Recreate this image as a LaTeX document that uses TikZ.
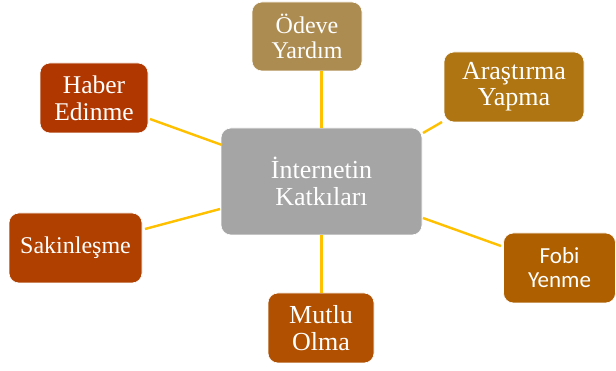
\documentclass[tikz,border=0pt]{standalone}
\usepackage{fontspec}
\setmainfont{Liberation Serif}
\newfontfamily\carlito{Carlito}
\definecolor{cOdeve}{RGB}{173,140,81}
\definecolor{cArastirma}{RGB}{174,117,18}
\definecolor{cFobi}{RGB}{174,95,0}
\definecolor{cMutlu}{RGB}{176,80,0}
\definecolor{cSakin}{RGB}{176,64,0}
\definecolor{cHaber}{RGB}{176,56,0}
\definecolor{cCenter}{RGB}{165,165,165}
\definecolor{cLine}{RGB}{255,192,0}
\tikzset{
  box/.style={fill=#1, draw=white, line width=0.6pt, rounded corners=10pt, text=white, align=center, inner sep=0pt},
  conn/.style={draw=cLine, line width=2.4pt}
}
\begin{document}
\begin{tikzpicture}[x=1pt,y=-1pt]
\useasboundingbox (0,0) rectangle (616,371);
\node[box=cCenter, minimum width=201pt, minimum height=107pt, font=\fontsize{26}{27}\selectfont] (center) at (321.5,181.5) {İnternetin\\Katkıları};
\node[box=cOdeve, minimum width=110pt, minimum height=69pt, font=\fontsize{24}{25}\selectfont] (odeve) at (307,36.5) {Ödeve\\Yardım};
\node[box=cArastirma, minimum width=140pt, minimum height=70pt, font=\fontsize{26}{26}\selectfont] (arastirma) at (514,87) {Araştırma\\Yapma};
\node[box=cFobi, minimum width=112pt, minimum height=70pt, font=\carlito\fontsize{23}{24}\selectfont] (fobi) at (559.5,268) {Fobi\\Yenme};
\node[box=cSakin, minimum width=133pt, minimum height=70pt, font=\fontsize{24}{25}\selectfont] (sakin) at (75.5,248) {Sakinleşme};
\node[box=cHaber, minimum width=108pt, minimum height=70pt, font=\fontsize{25.5}{27}\selectfont] (haber) at (94,98) {Haber\\Edinme};
\node[box=cMutlu, minimum width=106pt, minimum height=70pt, font=\fontsize{26}{27}\selectfont] (mutlu) at (321,328) {Mutlu\\Olma};
\coordinate (a1) at (423,133);
\coordinate (a2) at (442,122);
\coordinate (f1) at (423,218);
\coordinate (f2) at (501,246);
\coordinate (s1) at (145,229);
\coordinate (s2) at (220,209);
\coordinate (h1) at (150,119);
\coordinate (h2) at (222,145);
\draw[conn] (center.north) -- (center.north |- odeve.south);
\draw[conn] (center.south) -- (center.south |- mutlu.north);
\draw[conn] (a1) -- (a2);
\draw[conn] (f1) -- (f2);
\draw[conn] (s1) -- (s2);
\draw[conn] (h1) -- (h2);
\end{tikzpicture}
\end{document}
